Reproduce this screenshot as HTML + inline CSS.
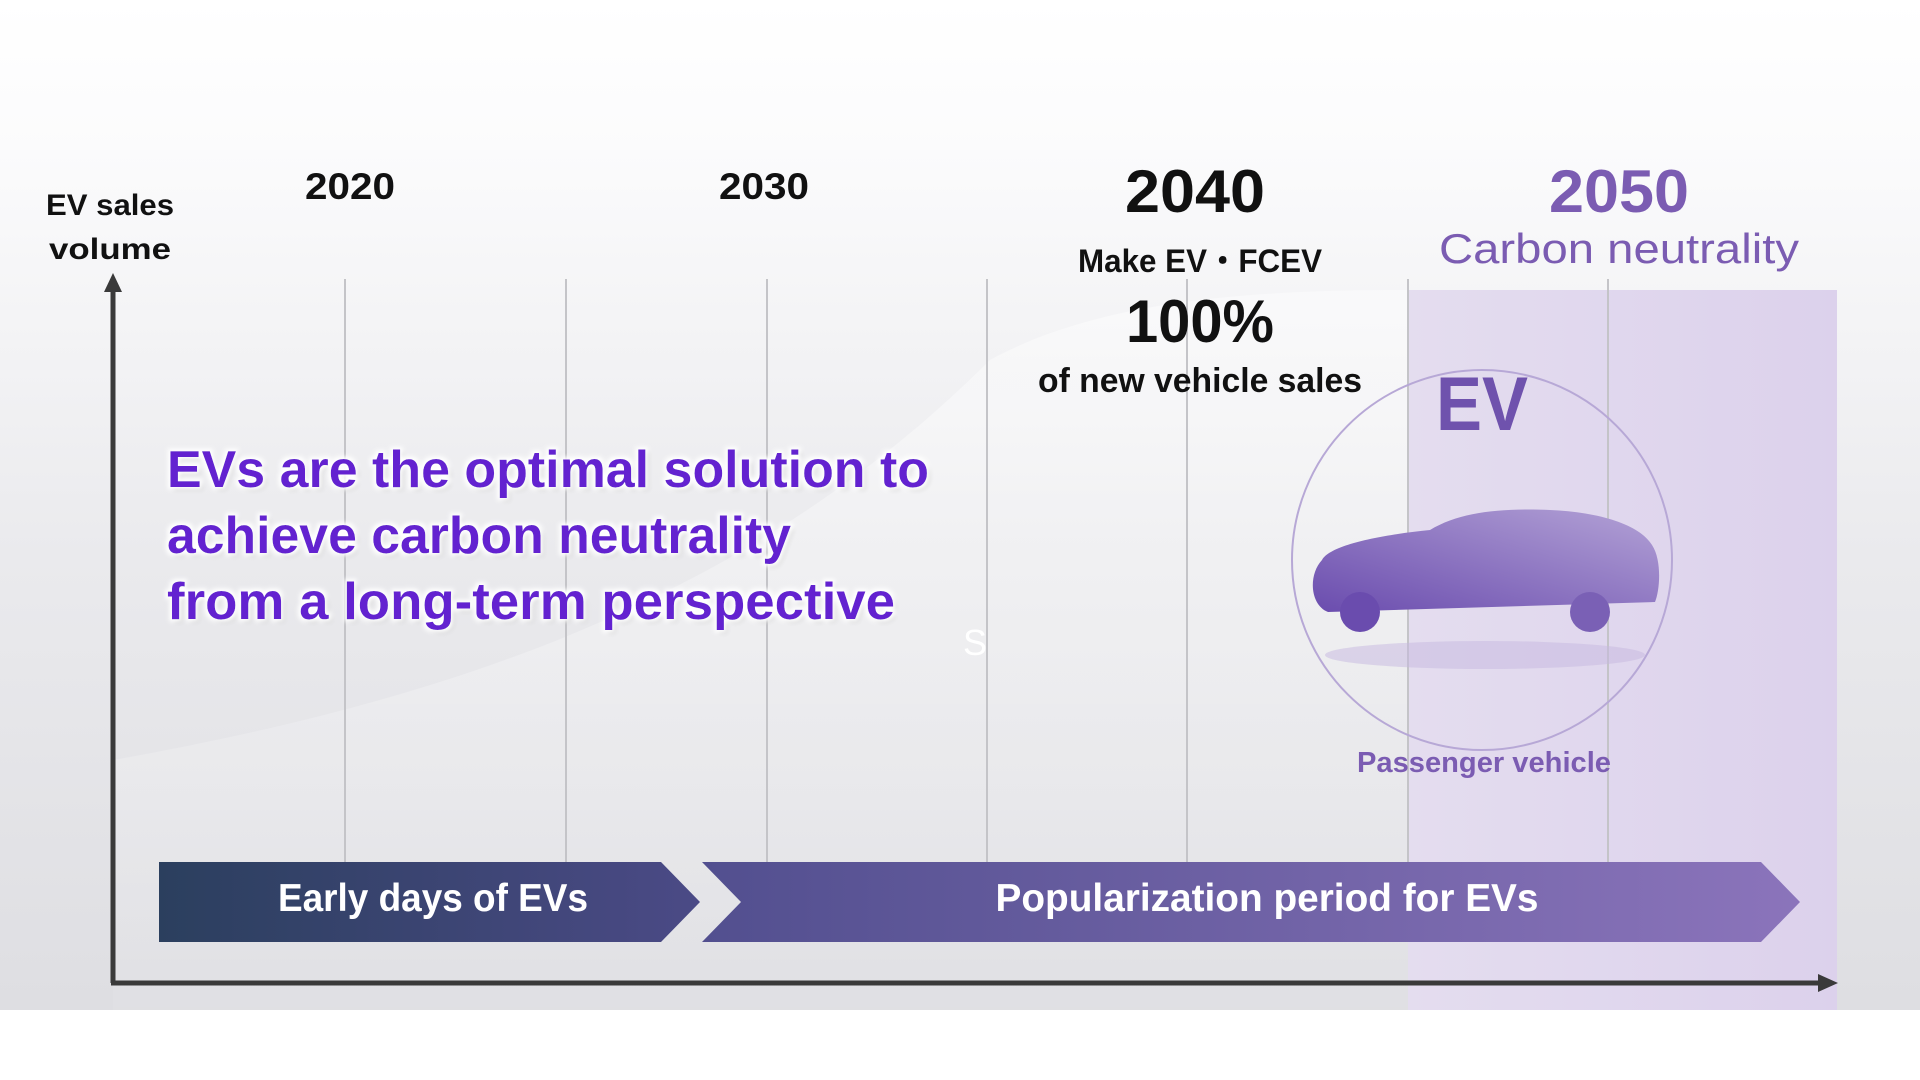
<!DOCTYPE html>
<html><head><meta charset="utf-8"><style>
html,body{margin:0;padding:0;background:#fff;width:1920px;height:1080px;overflow:hidden}
svg{display:block}
text{font-family:"Liberation Sans",sans-serif}
</style></head><body>
<svg width="1920" height="1080" viewBox="0 0 1920 1080" xmlns="http://www.w3.org/2000/svg">
<defs>
<linearGradient id="bg" x1="0" y1="0" x2="0" y2="1">
<stop offset="0" stop-color="#ffffff"/><stop offset="0.15" stop-color="#fbfbfc"/><stop offset="0.55" stop-color="#eaeaed"/><stop offset="1" stop-color="#dedee2"/>
</linearGradient>
<linearGradient id="curveFill" x1="0" y1="0" x2="0" y2="1">
<stop offset="0" stop-color="#ffffff" stop-opacity="0.45"/><stop offset="1" stop-color="#ffffff" stop-opacity="0.05"/>
</linearGradient>
<linearGradient id="purp" x1="0" y1="0" x2="1" y2="0">
<stop offset="0" stop-color="#e4ddef"/><stop offset="1" stop-color="#dcd1ec"/>
</linearGradient>
<linearGradient id="bar1" x1="0" y1="0" x2="1" y2="0">
<stop offset="0" stop-color="#2b3f5e"/><stop offset="1" stop-color="#4b4a86"/>
</linearGradient>
<linearGradient id="bar2" x1="0" y1="0" x2="1" y2="0">
<stop offset="0" stop-color="#524f8f"/><stop offset="1" stop-color="#8b74bb"/>
</linearGradient>
<linearGradient id="car" x1="0" y1="1" x2="1" y2="0">
<stop offset="0" stop-color="#6a4cae"/><stop offset="1" stop-color="#b3a2d6"/>
</linearGradient>
<filter id="glow" x="-5%" y="-20%" width="110%" height="140%">
<feMorphology in="SourceAlpha" operator="dilate" radius="2.5" result="d"/>
<feGaussianBlur in="d" stdDeviation="2" result="b"/>
<feFlood flood-color="#ffffff"/><feComposite in2="b" operator="in" result="w"/>
<feOffset in="SourceAlpha" dx="3" dy="3" result="o"/><feGaussianBlur in="o" stdDeviation="2" result="ob"/>
<feFlood flood-color="#888" flood-opacity="0.5"/><feComposite in2="ob" operator="in" result="sh"/>
<feMerge><feMergeNode in="sh"/><feMergeNode in="w"/><feMergeNode in="SourceGraphic"/></feMerge>
</filter>
</defs>
<rect x="0" y="0" width="1920" height="1010" fill="url(#bg)"/>
<path d="M113 760 C 450 700, 750 600, 990 360 C 1100 300, 1250 290, 1408 290 L 1408 1010 L 113 1010 Z" fill="url(#curveFill)"/>
<rect x="1408" y="290" width="429" height="720" fill="url(#purp)"/>
<g stroke="#c4c4c8" stroke-width="2">
<line x1="345" y1="279" x2="345" y2="862"/><line x1="566" y1="279" x2="566" y2="862"/>
<line x1="767" y1="279" x2="767" y2="862"/><line x1="987" y1="279" x2="987" y2="862"/>
<line x1="1187" y1="279" x2="1187" y2="862"/><line x1="1408" y1="279" x2="1408" y2="862"/>
<line x1="1608" y1="279" x2="1608" y2="862"/>
</g>
<line x1="113" y1="288" x2="113" y2="983" stroke="#3a3a3a" stroke-width="5"/>
<polygon points="113,273 104,292 122,292" fill="#3a3a3a"/>
<line x1="111" y1="983" x2="1822" y2="983" stroke="#3a3a3a" stroke-width="5"/>
<polygon points="1838,983 1818,974 1818,992" fill="#3a3a3a"/>
<g font-weight="bold">
<text x="110" y="215" font-size="30" text-anchor="middle" fill="#111" textLength="128" lengthAdjust="spacingAndGlyphs">EV sales</text>
<text x="110" y="259" font-size="30" text-anchor="middle" fill="#111" textLength="122" lengthAdjust="spacingAndGlyphs">volume</text>
<text x="350" y="199" font-size="37" text-anchor="middle" fill="#111" textLength="90" lengthAdjust="spacingAndGlyphs">2020</text>
<text x="764" y="199" font-size="37" text-anchor="middle" fill="#111" textLength="90" lengthAdjust="spacingAndGlyphs">2030</text>
</g>
<text x="1195" y="212" font-size="60" font-weight="bold" text-anchor="middle" fill="#111" textLength="140" lengthAdjust="spacingAndGlyphs">2040</text>
<text x="1619" y="212" font-size="60" font-weight="bold" text-anchor="middle" fill="#7b5cb2" textLength="140" lengthAdjust="spacingAndGlyphs">2050</text>
<text x="1619" y="263" font-size="42" text-anchor="middle" fill="#7b5cb2" textLength="360" lengthAdjust="spacingAndGlyphs">Carbon neutrality</text>
<text x="1200" y="272" font-size="32" font-weight="bold" text-anchor="middle" fill="#111" textLength="244" lengthAdjust="spacingAndGlyphs">Make EV・FCEV</text>
<text x="1200" y="342" font-size="60" font-weight="bold" text-anchor="middle" fill="#111" textLength="148" lengthAdjust="spacingAndGlyphs">100%</text>
<text x="1200" y="392" font-size="34" font-weight="bold" text-anchor="middle" fill="#111" textLength="324" lengthAdjust="spacingAndGlyphs">of new vehicle sales</text>
<text x="1482" y="430" font-size="76" font-weight="bold" text-anchor="middle" fill="#6f52ad" textLength="92" lengthAdjust="spacingAndGlyphs">EV</text>
<circle cx="1482" cy="560" r="190" fill="none" stroke="#b7a8d6" stroke-width="2"/>
<ellipse cx="1485" cy="655" rx="160" ry="14" fill="#c6b8e0" opacity="0.5"/>
<path d="M1322 560 C1330 545,1380 535,1430 530 C1460 512,1500 508,1550 510 C1600 512,1640 525,1652 545 C1662 560,1660 590,1655 602 L1328 612 C1310 605,1308 575,1322 560 Z" fill="url(#car)"/>
<circle cx="1360" cy="612" r="20" fill="#6a4cae"/><circle cx="1590" cy="612" r="20" fill="#7a60b5"/>
<text x="1484" y="772" font-size="29" font-weight="bold" text-anchor="middle" fill="#7b5cb2" textLength="254" lengthAdjust="spacingAndGlyphs">Passenger vehicle</text>
<g filter="url(#glow)" fill="#6420d0" font-size="52" font-weight="bold">
<text x="167" y="487" textLength="762" lengthAdjust="spacingAndGlyphs">EVs are the optimal solution to</text>
<text x="167" y="553" textLength="624" lengthAdjust="spacingAndGlyphs">achieve carbon neutrality</text>
<text x="167" y="619" textLength="728" lengthAdjust="spacingAndGlyphs">from a long-term perspective</text>
</g>
<text x="963" y="655" font-size="36" fill="#ffffff">S</text>
<polygon points="159,862 661,862 700,902 661,942 159,942" fill="url(#bar1)"/>
<polygon points="702,862 1761,862 1800,902 1761,942 702,942 741,902" fill="url(#bar2)"/>
<text x="433" y="911" font-size="39" font-weight="bold" text-anchor="middle" fill="#fff" textLength="310" lengthAdjust="spacingAndGlyphs">Early days of EVs</text>
<text x="1267" y="911" font-size="39" font-weight="bold" text-anchor="middle" fill="#fff" textLength="543" lengthAdjust="spacingAndGlyphs">Popularization period for EVs</text>
</svg>
</body></html>
